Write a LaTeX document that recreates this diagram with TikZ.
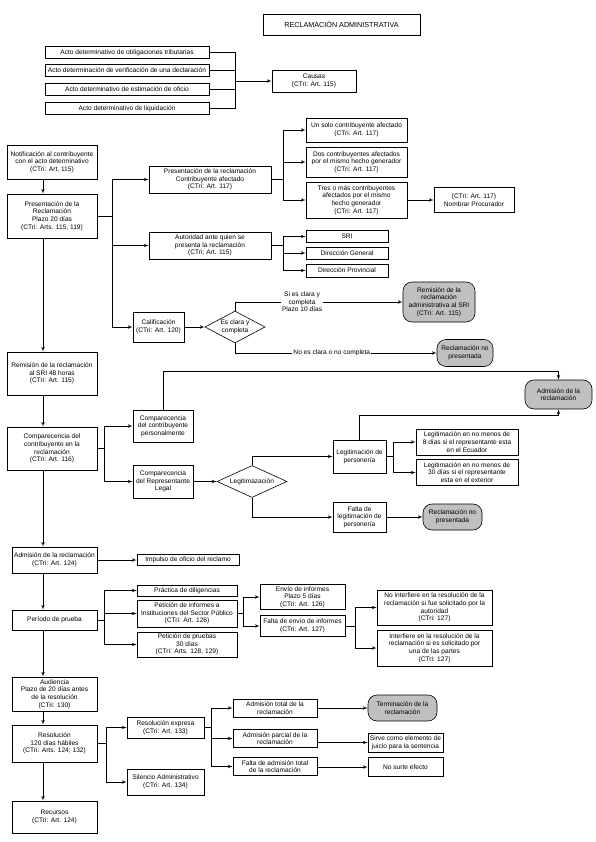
\documentclass[tikz,border=0pt]{standalone}
\usepackage{fontspec}
\setmainfont{Liberation Sans}
\usetikzlibrary{shapes,arrows}
\usetikzlibrary{calc}

\definecolor{grisclaro}{RGB}{192,192,192}

\begin{document}
\begin{tikzpicture}[x=1pt, y=-1pt, line width=0.6pt,
  font=\fontsize{6.6}{7.6}\selectfont,
  caja/.style={draw, align=center, inner sep=0.5pt},
  final/.style={draw, fill=grisclaro, rounded corners=9pt, align=center, inner sep=0.5pt},
  rombo/.style={draw, diamond, aspect=2, inner sep=0pt, align=center},
  flecha/.style={-latex'},
  etiqueta/.style={fill=white, align=center, inner sep=1pt}]

\useasboundingbox (0,0) rectangle (595,842);

\node[caja, minimum width=157, minimum height=21, font=\fontsize{7.2}{9}\selectfont] (titulo) at (341.5,24.5) {RECLAMACIÓN ADMINISTRATIVA};

\node[caja, minimum width=164, minimum height=12] (a1) at (127,52.5) {Acto determinativo de obligaciones tributarias};
\node[caja, minimum width=164, minimum height=12] (a2) at (127,70.5) {Acto determinación de verificación de una declaración};
\node[caja, minimum width=164, minimum height=12] (a3) at (127,89.5) {Acto determinativo de estimación de oficio};
\node[caja, minimum width=164, minimum height=12] (a4) at (127,108.3) {Acto determinativo de liquidación};
\node[caja, minimum width=84, minimum height=22] (causas) at (314,81) {Causas\\(CTri: Art. 115)};

\coordinate (j1) at (235,81);
\draw (a1.east) -| (j1);
\draw (a2.east) -| (j1);
\draw (a3.east) -| (j1);
\draw (a4.east) -| (j1);
\draw[flecha] (j1) -- (causas);

\coordinate (eje) at (43,0);

\node[caja, minimum width=90, minimum height=34] (notif) at (52,162) {Notificación al contribuyente\\con el acto determinativo\\(CTri: Art, 115)};
\node[caja, minimum width=90, minimum height=44] (pres) at (52,216) {Presentación de la\\Reclamación\\Plazo 20 días\\(CTri: Arts. 115, 119)};
\draw[flecha] (notif.south -| eje) -- (pres.north -| eje);

\node[caja, minimum width=122, minimum height=27] (prc) at (210,179.5) {Presentación de la reclamación\\Contribuyente afectado\\(CTri: Art. 117)};
\node[caja, minimum width=122, minimum height=27] (aut) at (210,245.5) {Autoridad ante quien se\\presenta la reclamación\\(CTri; Art. 115)};
\node[caja, minimum width=51, minimum height=30] (calif) at (158.5,327) {Calificación\\(CTri: Art. 120)};

\coordinate (j2) at (112,216);
\draw (pres.east) -- (j2);
\draw[flecha] (j2) |- (prc);
\draw[flecha] (j2) |- (aut);
\draw[flecha] (j2) |- (calif);

\node[caja, minimum width=101, minimum height=24] (solo) at (356.5,130) {Un solo contribuyente afectado\\(CTri: Art. 117)};
\node[caja, minimum width=101, minimum height=30] (dos) at (356.5,162) {Dos contribuyentes afectados\\por el mismo hecho generador\\(CTri: Art. 117)};
\node[caja, minimum width=101, minimum height=36] (tres) at (356.5,200) {Tres o más contribuyentes\\afectados por el mismo\\hecho generador\\(CTri: Art. 117)};
\node[caja, minimum width=80, minimum height=25] (procurador) at (474,200) {(CTri: Art. 117)\\Nombrar Procurador};

\coordinate (j3) at (283,179.5);
\draw (prc.east) -- (j3);
\draw[flecha] (j3) |- (solo);
\draw[flecha] (j3) |- (dos);
\draw[flecha] (j3) |- (tres);
\draw[flecha] (tres) -- (procurador);

\node[caja, minimum width=82, minimum height=12] (sri) at (347,236.5) {SRI};
\node[caja, minimum width=82, minimum height=12] (dgeneral) at (347,253) {Dirección General};
\node[caja, minimum width=82, minimum height=13] (dprovincial) at (347,270.5) {Dirección Provincial};

\coordinate (j4) at (283,245.5);
\draw (aut.east) -- (j4);
\draw[flecha] (j4) |- (sri);
\draw[flecha] (j4) |- (dgeneral);
\draw[flecha] (j4) |- (dprovincial);

\node[rombo, minimum width=60, minimum height=32] (clara) at (235,327) {Es clara y\\completa};
\node[final, minimum width=72, minimum height=40] (remsri) at (439,302) {Remisión de la\\reclamación\\administrativa al SRI\\(CTri: Art. 115)};
\node[final, minimum width=56, minimum height=27] (nopres1) at (465,353) {Reclamación no\\presentada};

\draw[flecha] (calif) -- (clara);
\draw[flecha] (clara.north) |- (remsri.west) node[etiqueta, pos=0.7] {Si es clara y\\completa\\Plazo 10 días};
\draw[flecha] (clara.south) |- (nopres1.west) node[etiqueta, pos=0.74] {No es clara o no completa};

\node[caja, minimum width=90, minimum height=43] (remision) at (52,373.5) {Remisión de la reclamación\\al SRI 48 horas\\(CTri: Art. 115)};
\node[caja, minimum width=90, minimum height=43] (comp) at (52,448.5) {Comparecencia del\\contribuyente en la\\reclamación\\(CTri: Art. 116)};
\draw[flecha] (pres.south -| eje) -- (remision.north -| eje);
\draw[flecha] (remision.south -| eje) -- (comp.north -| eje);

\node[caja, minimum width=60, minimum height=32] (personal) at (163,426) {Comparecencia\\del contribuyente\\personalmente};
\node[caja, minimum width=60, minimum height=33] (repre) at (163,481.5) {Comparecencia\\del Representante\\Legal};

\coordinate (j5) at (104,448.5);
\draw (comp.east) -- (j5);
\draw[flecha] (j5) |- (personal);
\draw[flecha] (j5) |- (repre);

\node[final, minimum width=67, minimum height=29] (admision) at (558.5,394.5) {Admisión de la\\reclamación};
\node[rombo, minimum width=70, minimum height=32] (legit) at (252,481.5) {Legitimazación};
\node[caja, minimum width=53, minimum height=33] (personeria) at (359.5,456.5) {Legitimación de\\personería};
\node[caja, minimum width=53, minimum height=30] (faltaleg) at (359.5,517) {Falta de\\legitimación de\\personería};
\node[final, minimum width=59, minimum height=26] (nopres2) at (452.5,517) {Reclamación no\\presentada};

\draw[flecha] (personal.north) -- ++(0,-38) -| (admision.north);
\draw[flecha] (repre) -- (legit);
\draw[flecha] (legit.north) |- (personeria.west);
\draw[flecha] (legit.south) |- (faltaleg.west);
\draw[flecha] (faltaleg) -- (nopres2);
\draw[flecha] (personeria.north) -- ++(0,-24) -| (admision.south);

\node[caja, minimum width=102, minimum height=26] (ocho) at (467,442) {Legitimación en no menos de\\8 días si el representante esta\\en el Ecuador};
\node[caja, minimum width=102, minimum height=26] (treinta) at (467,472.5) {Legitimación en no menos de\\30 días si el representante\\esta en el exterior};

\coordinate (j6) at (393,456.5);
\draw (personeria.east) -- (j6);
\draw[flecha] (j6) |- (ocho);
\draw[flecha] (j6) |- (treinta);

\node[caja, minimum width=85, minimum height=26] (admrec) at (54.5,560) {Admisión de la reclamación\\(CTri: Art. 124)};
\node[caja, minimum width=102, minimum height=11] (impulso) at (188,560) {Impulso de oficio del reclamo};
\node[caja, minimum width=85, minimum height=20] (prueba) at (54.5,620) {Período de prueba};
\draw[flecha] (comp.south -| eje) -- (admrec.north -| eje);
\draw[flecha] (admrec) -- (impulso);
\draw[flecha] (admrec.south -| eje) -- (prueba.north -| eje);

\node[caja, minimum width=100, minimum height=11] (practica) at (187,590.5) {Práctica de diligencias};
\node[caja, minimum width=100, minimum height=27] (informes) at (187,613.5) {Petición de informes a\\Instituciones del Sector Público\\(CTri: Art. 126)};
\node[caja, minimum width=100, minimum height=25] (pruebas) at (187,644.5) {Petición de pruebas\\30 días\\(CTri: Arts. 128, 129)};

\coordinate (j7) at (104,620);
\draw (prueba.east) -- (j7);
\draw[flecha] (j7) |- (practica);
\draw[flecha] (j7) |- (informes);
\draw[flecha] (j7) |- (pruebas);

\node[caja, minimum width=85, minimum height=25] (envio) at (302.5,597) {Envío de informes\\Plazo 5 días\\(CTri: Art. 126)};
\node[caja, minimum width=85, minimum height=21] (faltaenvio) at (302.5,626) {Falta de envío de informes\\(CTri: Art. 127)};

\coordinate (j8) at (243,613.5);
\draw (informes.east) -- (j8);
\draw[flecha] (j8) |- (envio);
\draw[flecha] (j8) |- (faltaenvio);

\node[caja, minimum width=115, minimum height=35] (nointerfiere) at (434.5,607.5) {No interfiere en la resolución de la\\reclamación si fue solicitado por la\\autoridad\\(CTri: 127)};
\node[caja, minimum width=115, minimum height=36] (interfiere) at (434.5,648) {Interfiere en la resolución de la\\reclamación si es solicitado por\\una de las partes\\(CTri: 127)};

\coordinate (j9) at (355,626);
\draw (faltaenvio.east) -- (j9);
\draw[flecha] (j9) |- (nointerfiere);
\draw[flecha] (j9) |- (interfiere);

\node[caja, minimum width=85, minimum height=34] (audiencia) at (54.5,694) {Audiencia\\Plazo de 20 días antes\\de la resolución\\(CTri: 130)};
\node[caja, minimum width=85, minimum height=37] (resolucion) at (54.5,743.5) {Resolución\\120 días hábiles\\(CTri: Arts. 124; 132)};
\node[caja, minimum width=85, minimum height=32] (recursos) at (54.5,817) {Recursos\\(CTri: Art. 124)};
\draw[flecha] (prueba.south -| eje) -- (audiencia.north -| eje);
\draw[flecha] (audiencia.south -| eje) -- (resolucion.north -| eje);
\draw[flecha] (resolucion.south -| eje) -- (recursos.north -| eje);

\node[caja, minimum width=77, minimum height=21] (expresa) at (165.5,727.5) {Resolución expresa\\(CTri: Art. 133)};
\node[caja, minimum width=77, minimum height=26] (silencio) at (165.5,782) {Silencio Administrativo\\(CTri: Art. 134)};

\coordinate (j10) at (106,743.5);
\draw (resolucion.east) -- (j10);
\draw[flecha] (j10) |- (expresa);
\draw[flecha] (j10) |- (silencio);

\node[caja, minimum width=84, minimum height=18] (total) at (275,708) {Admisión total de la\\reclamación};
\node[caja, minimum width=84, minimum height=18] (parcial) at (275,738.5) {Admisión parcial  de la\\reclamación};
\node[caja, minimum width=84, minimum height=18] (faltaadm) at (275,766.5) {Falta de admisión total\\de la reclamación};

\coordinate (j11) at (211,727.5);
\draw (expresa.east) -- (j11);
\draw[flecha] (j11) |- (total);
\draw[flecha] (j11) |- (parcial);
\draw[flecha] (j11) |- (faltaadm);

\node[final, minimum width=69, minimum height=26] (terminacion) at (402.5,708) {Terminación de la\\reclamación};
\node[caja, minimum width=75, minimum height=19] (sirve) at (405.5,742.5) {Sirve como elemento de\\juicio para la sentencia};
\node[caja, minimum width=75, minimum height=19] (nosurte) at (405.5,767) {No surte efecto};

\draw[flecha] (total) -- (terminacion);
\draw[flecha] (parcial.east |- sirve) -- (sirve);
\draw[flecha] (faltaadm.east |- nosurte) -- (nosurte);

\end{tikzpicture}
\end{document}
